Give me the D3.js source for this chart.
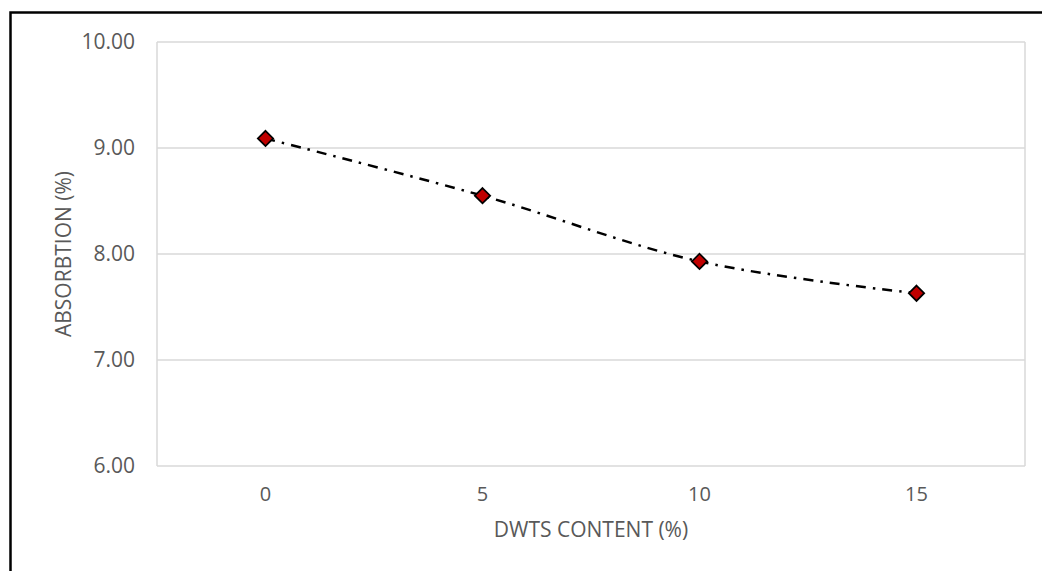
<!DOCTYPE html>
<html>
<head>
<meta charset="utf-8">
<script src="https://cdn.jsdelivr.net/npm/d3@7"></script>
<style>
  html, body { margin: 0; padding: 0; background: #fff; overflow: hidden; }
  svg { display: block; }
  svg text { font-family: "Open Sans", "Noto Sans", sans-serif; fill: #595959; }
</style>
</head>
<body>
<svg id="chart" width="1042" height="571"></svg>
<script>
// values
const categories = ['0', '5', '10', '15'];
const absorption = [9.09, 8.55, 7.93, 7.63];
const yTicks = [6, 7, 8, 9, 10];

const W = 1042, H = 571;
const margin = { top: 42, right: 17, bottom: 105, left: 157 };
const innerW = W - margin.left - margin.right;
const innerH = H - margin.top - margin.bottom;

const svg = d3.select('#chart');

// outer chart border: only the top and left edges are in frame
svg.append('path')
    .attr('d', `M10.5,${H} V12.5 H${W}`)
    .attr('fill', 'none')
    .attr('stroke', '#000')
    .attr('stroke-width', 2.5);

const g = svg.append('g').attr('transform', `translate(${margin.left},${margin.top})`);

const x = d3.scaleBand().domain(categories).range([0, innerW]);
const y = d3.scaleLinear().domain([6, 10]).range([innerH, 0]);

// horizontal gridlines
g.selectAll('line.grid')
    .data(yTicks)
    .join('line')
    .attr('class', 'grid')
    .attr('x1', 0).attr('x2', innerW)
    .attr('y1', d => y(d)).attr('y2', d => y(d))
    .attr('stroke', '#d9d9d9')
    .attr('stroke-width', 1.5);

// plot-area side borders
g.selectAll('line.side')
    .data([0, innerW])
    .join('line')
    .attr('class', 'side')
    .attr('x1', d => d).attr('x2', d => d)
    .attr('y1', 0).attr('y2', innerH)
    .attr('stroke', '#d9d9d9')
    .attr('stroke-width', 1.5);

// y tick labels
g.selectAll('text.ytick')
    .data(yTicks)
    .join('text')
    .attr('class', 'ytick')
    .attr('x', -22)
    .attr('y', d => y(d))
    .attr('dy', '0.35em')
    .attr('text-anchor', 'end')
    .style('font-size', '21px')
    .text(d => d3.format('.2f')(d));

// x tick labels
g.selectAll('text.xtick')
    .data(categories)
    .join('text')
    .attr('class', 'xtick')
    .attr('x', d => x(d) + x.bandwidth() / 2)
    .attr('y', innerH + 35)
    .attr('text-anchor', 'middle')
    .style('font-size', '20px')
    .text(d => d);

// axis titles
svg.append('text')
    .attr('x', margin.left + innerW / 2)
    .attr('y', 537)
    .attr('text-anchor', 'middle')
    .style('font-size', '21px')
    .text('DWTS CONTENT (%)');

svg.append('text')
    .attr('transform', `translate(71,${margin.top + innerH / 2}) rotate(-90)`)
    .attr('text-anchor', 'middle')
    .style('font-size', '21px')
    .text('ABSORBTION (%)');

const pts = categories.map((c, i) => [x(c) + x.bandwidth() / 2, y(absorption[i])]);

// smoothed dash-dot line
g.append('path')
    .attr('d', d3.line().curve(d3.curveCatmullRom.alpha(0))(pts))
    .attr('fill', 'none')
    .attr('stroke', '#000')
    .attr('stroke-width', 2.5)
    .attr('stroke-dasharray', '10,7,2.5,7');

// diamond markers
const diamond = d3.symbol().type(d3.symbolDiamond2).size(150);
g.selectAll('path.marker')
    .data(pts)
    .join('path')
    .attr('class', 'marker')
    .attr('transform', d => `translate(${d[0]},${d[1]})`)
    .attr('d', diamond)
    .attr('fill', '#c00000')
    .attr('stroke', '#000')
    .attr('stroke-width', 1.75);
</script>
</body>
</html>
